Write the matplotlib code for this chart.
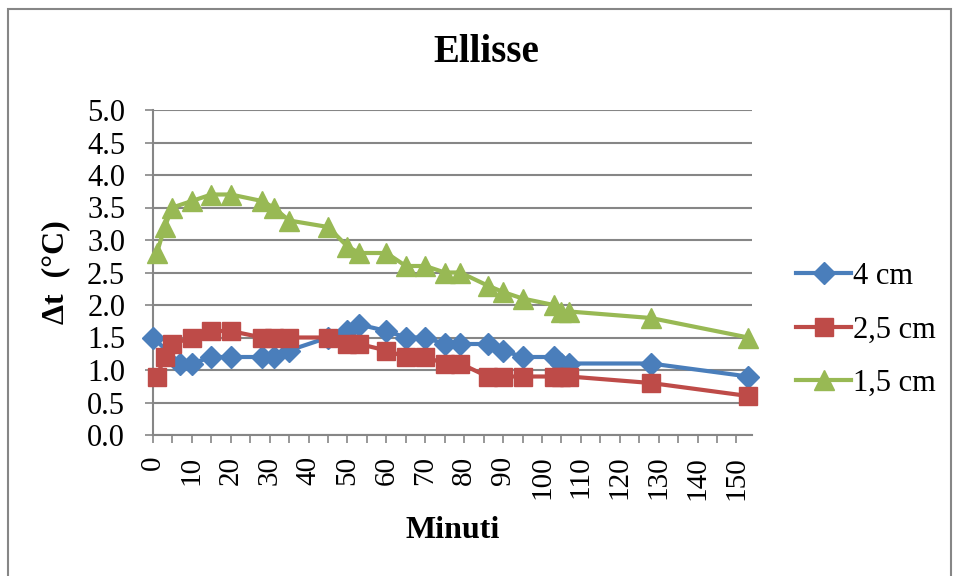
import numpy as np
import matplotlib
matplotlib.use('Agg')
import matplotlib.pyplot as plt
from matplotlib.patches import Rectangle

plt.rcParams['font.family'] = ['Liberation Serif', 'DejaVu Serif']

# data (minutes, delta t in C)
t_4cm = [0, 7, 10, 15, 20, 28, 31, 35, 45, 50, 53, 60, 65, 70, 75, 79, 86, 90, 95, 103, 105, 107, 128, 153]
dt_4cm = [1.5, 1.1, 1.1, 1.2, 1.2, 1.2, 1.2, 1.3, 1.5, 1.6, 1.7, 1.6, 1.5, 1.5, 1.4, 1.4, 1.4, 1.3, 1.2, 1.2, 1.1, 1.1, 1.1, 0.9]

t_25cm = [1, 3, 5, 10, 15, 20, 28, 31, 35, 45, 50, 53, 60, 65, 70, 75, 79, 86, 90, 95, 103, 105, 107, 128, 153]
dt_25cm = [0.9, 1.2, 1.4, 1.5, 1.6, 1.6, 1.5, 1.5, 1.5, 1.5, 1.4, 1.4, 1.3, 1.2, 1.2, 1.1, 1.1, 0.9, 0.9, 0.9, 0.9, 0.9, 0.9, 0.8, 0.6]

t_15cm = [1, 3, 5, 10, 15, 20, 28, 31, 35, 45, 50, 53, 60, 65, 70, 75, 79, 86, 90, 95, 103, 105, 107, 128, 153]
dt_15cm = [2.8, 3.2, 3.5, 3.6, 3.7, 3.7, 3.6, 3.5, 3.3, 3.2, 2.9, 2.8, 2.8, 2.6, 2.6, 2.5, 2.5, 2.3, 2.2, 2.1, 2.0, 1.9, 1.9, 1.8, 1.5]

labels = ['4 cm', '2,5 cm', '1,5 cm']
xticks_lab = list(range(0, 151, 10))

W, H = 954, 576
fig = plt.figure(figsize=(W/100, H/100), dpi=100)
ax = fig.add_axes([153/W, 1-435/H, (752-153)/W, (435-110)/H])

grey = '#868686'
ax.plot(t_4cm, dt_4cm, color='#4A7EBB', lw=3, marker='D', ms=11, label=labels[0], clip_on=False, zorder=3)
ax.plot(t_25cm, dt_25cm, color='#BE4B48', lw=3, marker='s', ms=13, label=labels[1], clip_on=False, zorder=3)
ax.plot(t_15cm, dt_15cm, color='#98B954', lw=3, marker='^', ms=14, label=labels[2], clip_on=False, zorder=3)

ax.set_xlim(0, 154)
ax.set_ylim(0, 5)
ax.set_yticks(np.arange(0, 5.01, 0.5))
ax.set_yticklabels(['%.1f' % v for v in np.arange(0, 5.01, 0.5)], fontsize=22)
ax.set_xticks(xticks_lab)
ax.set_xticklabels([str(v) for v in xticks_lab], rotation=90, fontsize=21)
ax.set_xticks(range(5, 151, 10), minor=True)
ax.tick_params(axis='both', which='both', color=grey, length=6, width=1.2, direction='out')
ax.tick_params(axis='x', pad=9)
ax.tick_params(axis='y', pad=14)
ax.grid(axis='y', color=grey, lw=1.5)
ax.set_axisbelow(True)
for s in ['top', 'right']:
    ax.spines[s].set_visible(False)
for s in ['left', 'bottom']:
    ax.spines[s].set_color(grey)
    ax.spines[s].set_linewidth(1.5)

fig.text(486/W, 1-52/H, 'Ellisse', fontsize=28, fontweight='bold', ha='center', va='center')
fig.text(453/W, 1-530/H, 'Minuti', fontsize=23, fontweight='bold', ha='center', va='center')
fig.text(56/W, 1-272/H, 'Δt  (°C)', fontsize=23, fontweight='bold', ha='center', va='center', rotation=90)

fig.legend(loc='center left', bbox_to_anchor=(784/W, 1-330/H), frameon=False, fontsize=22,
           handlelength=1.8, handletextpad=0.05, labelspacing=0.8, borderaxespad=0)

fig.patches.append(Rectangle((8/W, -0.05), (951-8)/W, 1.05-9/H, transform=fig.transFigure,
                             fill=False, edgecolor=grey, lw=1.5))

fig.savefig('out.png', dpi=100)
